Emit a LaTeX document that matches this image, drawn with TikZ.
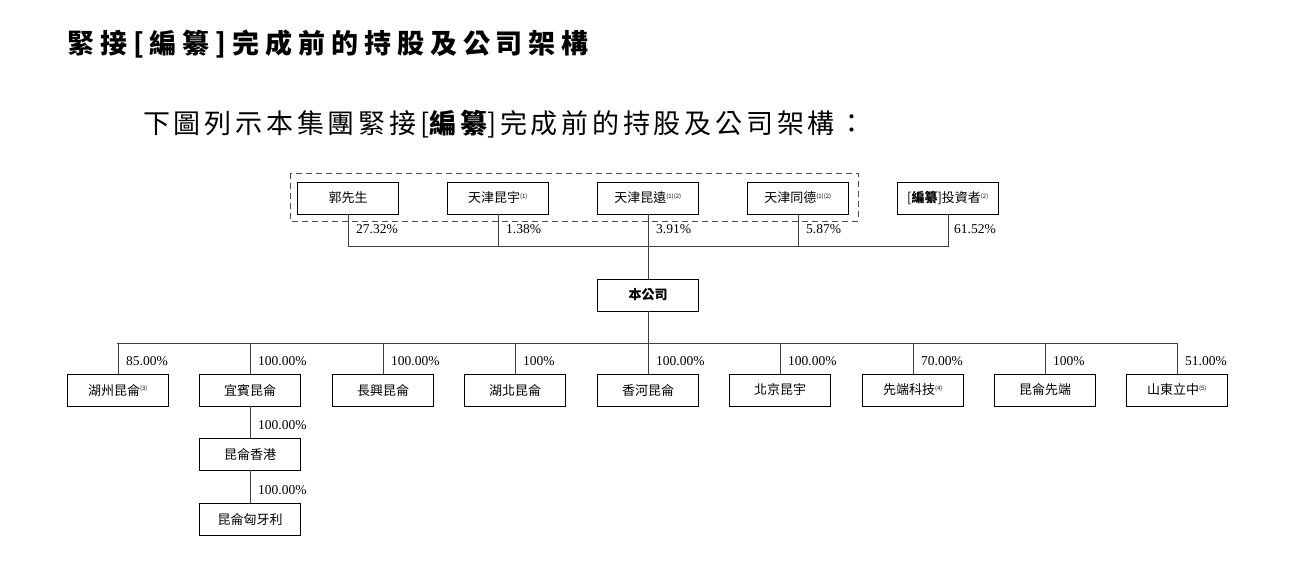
\documentclass[tikz,border=0pt]{standalone}
\usepackage{fontspec}
\setmainfont{Liberation Serif}
\newfontfamily\cjk{Noto Sans CJK TC}
\newfontfamily\cjktitle[LetterSpace=22]{Noto Sans CJK TC}
\newfontfamily\cjksub[LetterSpace=14]{Noto Sans CJK TC}
\begin{document}
\begin{tikzpicture}[x=1pt,y=-1pt,
  box/.style={draw,line width=0.9pt,minimum width=101pt,minimum height=32pt,inner sep=0pt,font=\cjk\fontsize{13}{14}\selectfont},
  pct/.style={anchor=west,inner sep=0pt,font=\fontsize{13.5}{14}\selectfont},
  ln/.style={line width=0.9pt,draw=black!75}]
\newcommand{\nt}[1]{\textsuperscript{\fontsize{6}{6}\selectfont #1}}
\useasboundingbox (0,0) rectangle (1303,560);
\node[anchor=west,inner sep=0pt,font=\cjktitle\bfseries\fontsize{27}{30}\selectfont] (title) at (67,44) {緊接[編纂]完成前的持股及公司架構};
\node[anchor=west,inner sep=0pt,font=\cjksub\fontsize{27}{30}\selectfont] (sub) at (143,124) {下圖列示本集團緊接[{\bfseries 編纂}]完成前的持股及公司架構：};
\draw[line width=1pt,draw=black!70,dash pattern=on 6pt off 4pt] (290,173) rectangle (858,221);
\node[box] (s1) at (348,198) {郭先生};
\node[box] (s2) at (498,198) {天津昆宇\nt{(1)}};
\node[box] (s3) at (648,198) {天津昆遠\nt{(1)(2)}};
\node[box] (s4) at (798,198) {天津同德\nt{(1)(2)}};
\node[box] (s5) at (948,198) {[{\bfseries 編纂}]投資者\nt{(2)}};
\node[box,font=\cjk\bfseries\fontsize{13}{14}\selectfont] (co) at (648,295) {本公司};
\coordinate (hr) at (948,246);
\draw[ln] (s1.south) |- (hr) -- (s5.south);
\draw[ln] (s2.south) -- (498,246);
\draw[ln] (s4.south) -- (798,246);
\draw[ln] (s3.south) -- (co.north);
\node[pct] (p1) at (356,229) {27.32\%};
\node[pct] (p2) at (506,229) {1.38\%};
\node[pct] (p3) at (656,229) {3.91\%};
\node[pct] (p4) at (806,229) {5.87\%};
\node[pct] (p5) at (954,229) {61.52\%};
\draw[ln] (co.south) -- (648,343);
\draw[ln] (117,343) -- (1177,343);
\foreach \n/\x/\t/\p in {c1/118/湖州昆侖\nt{(3)}/85.00\%, c2/250/宜賓昆侖/100.00\%, c3/383/長興昆侖/100.00\%, c4/515/湖北昆侖/100\%, c5/648/香河昆侖/100.00\%, c6/780/北京昆宇/100.00\%, c7/913/先端科技\nt{(4)}/70.00\%, c8/1045/昆侖先端/100\%, c9/1177/山東立中\nt{(5)}/51.00\%}{
  \node[box] (\n) at (\x,390) {\t};
  \draw[ln] (\x,343) -- (\n.north);
  \node[pct] at (\x+8,361) {\p};
}
\node[box] (hk) at (250,454) {昆侖香港};
\node[box] (hu) at (250,519) {昆侖匈牙利};
\draw[ln] (c2.south) -- (hk.north);
\draw[ln] (hk.south) -- (hu.north);
\node[pct] (p6) at (258,425) {100.00\%};
\node[pct] (p7) at (258,490) {100.00\%};
\end{tikzpicture}
\end{document}
